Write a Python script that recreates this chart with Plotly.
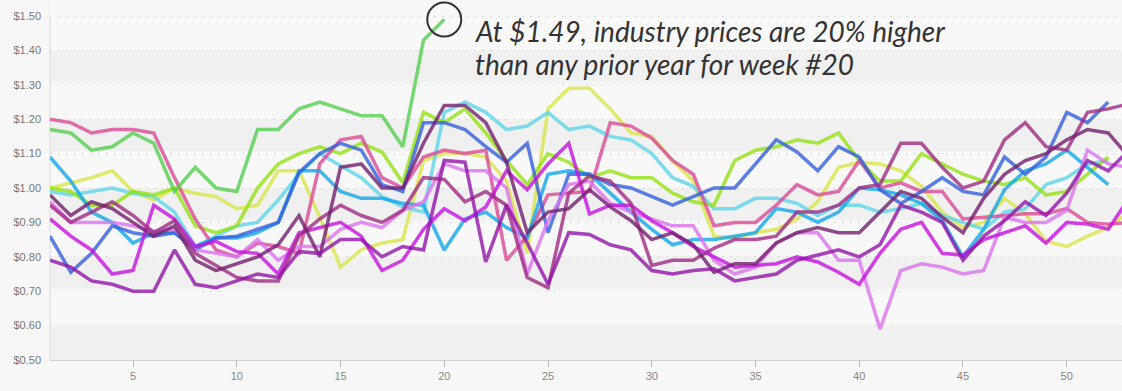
import plotly.graph_objects as go

weeks = list(range(1, 54))

green_2024 = [1.17,1.16,1.11,1.12,1.16,1.13,0.99,1.06,1.00,0.99,1.17,1.17,1.23,1.25,1.23,1.21,1.21,1.12,1.43,1.49]

rose = [1.20,1.19,1.16,1.17,1.17,1.16,1.03,0.91,0.82,0.80,0.84,0.83,0.81,1.07,1.14,1.15,1.03,1.00,1.09,1.11,
        1.10,1.11,0.79,0.86,0.98,0.985,0.99,1.19,1.18,1.145,1.08,1.04,0.89,0.90,0.90,0.95,1.01,0.98,0.99,1.08,
        1.00,1.015,0.99,0.99,0.91,0.915,0.92,0.925,0.925,0.94,0.90,0.895,0.90]

cyan = [1.09,1.02,0.93,0.90,0.84,0.87,0.87,0.83,0.855,0.855,0.87,0.90,1.05,1.05,0.99,0.97,0.97,0.955,0.95,0.82,
        0.91,0.93,0.885,0.855,1.04,1.05,1.04,0.985,0.93,0.88,0.835,0.85,0.85,0.86,0.87,0.94,0.93,0.90,0.93,1.00,
        0.995,0.98,0.955,0.905,0.80,0.88,0.995,1.05,1.07,1.11,1.06,1.01]

light_cyan = [0.99,0.98,0.99,1.00,0.985,0.975,0.93,0.83,0.86,0.89,0.90,0.965,1.04,1.10,1.065,1.03,0.975,0.945,0.93,1.22,
              1.25,1.22,1.17,1.18,1.22,1.17,1.18,1.15,1.14,1.10,1.03,1.005,0.94,0.94,0.97,0.97,0.955,0.92,0.95,0.95,
              0.93,0.94,0.955,0.92,0.90,0.88,0.93,0.94,1.01,1.03,1.07,1.08]

royal_blue = [0.86,0.755,0.81,0.89,0.87,0.86,0.87,0.82,0.855,0.86,0.88,0.90,1.045,1.10,1.13,1.11,1.01,0.99,1.19,1.19,
              1.17,1.12,1.075,1.13,0.87,1.04,1.04,1.01,1.00,0.975,0.95,0.975,1.00,1.00,1.07,1.14,1.105,1.05,1.12,1.09,
              0.995,0.955,0.99,1.03,0.99,0.98,1.09,1.04,1.09,1.22,1.19,1.25]

lime = [1.00,0.99,0.95,0.95,0.99,0.98,1.00,0.89,0.87,0.89,1.00,1.07,1.10,1.12,1.10,1.13,1.105,1.015,1.22,1.19,
        1.23,1.16,1.08,1.01,1.10,1.075,1.03,1.05,1.03,1.03,0.985,0.96,0.95,1.08,1.11,1.12,1.14,1.13,1.16,1.08,
        1.02,1.02,1.10,1.07,1.04,1.02,1.01,1.03,0.98,0.99,1.04,1.09]

yellow = [1.00,1.015,1.03,1.05,0.99,0.965,1.00,0.985,0.975,0.94,0.95,1.05,1.05,0.915,0.77,0.82,0.84,0.85,1.08,1.10,
          1.10,1.09,1.02,0.81,1.23,1.29,1.29,1.23,1.16,1.15,1.08,1.02,0.86,0.855,0.87,0.88,0.91,0.96,1.06,1.075,
          1.07,1.05,1.005,0.93,0.885,0.90,0.97,0.925,0.845,0.83,0.86,0.885,0.93]

dark_purple = [0.98,0.92,0.96,0.94,0.90,0.86,0.89,0.79,0.76,0.78,0.80,0.835,0.92,0.80,1.06,1.07,1.00,1.00,1.13,1.24,
               1.24,1.19,1.075,0.87,0.93,0.94,0.995,0.945,0.905,0.85,0.87,0.835,0.755,0.78,0.78,0.84,0.87,0.885,0.87,0.87,
               0.93,0.99,0.97,0.915,0.87,0.97,1.04,1.08,1.10,1.14,1.17,1.16,1.09]

mulberry = [0.95,0.90,0.93,0.96,0.92,0.87,0.905,0.81,0.775,0.74,0.73,0.73,0.86,0.91,0.95,0.92,0.90,0.935,1.03,1.025,
            0.96,0.99,0.95,0.74,0.71,0.985,1.035,1.02,0.955,0.775,0.79,0.79,0.825,0.85,0.85,0.86,0.93,0.93,0.95,1.00,
            1.01,1.13,1.13,1.06,1.00,1.02,1.14,1.19,1.12,1.11,1.22,1.23,1.245]

magenta = [0.91,0.86,0.82,0.75,0.76,0.95,0.91,0.83,0.845,0.815,0.81,0.75,0.87,0.885,0.90,0.86,0.76,0.79,0.88,0.94,
           0.905,0.945,1.05,0.995,1.07,1.13,0.925,0.95,0.95,0.905,0.87,0.83,0.80,0.77,0.775,0.78,0.80,0.785,0.755,0.72,
           0.81,0.88,0.90,0.81,0.805,0.85,0.87,0.89,0.84,0.90,0.895,0.88,0.97]

light_violet = [0.96,0.90,0.90,0.90,0.89,0.875,0.88,0.82,0.81,0.80,0.85,0.79,0.83,0.83,0.88,0.90,0.885,0.935,0.96,1.07,
                1.05,1.05,1.00,0.75,0.905,1.01,1.02,0.955,0.93,0.91,0.89,0.89,0.79,0.75,0.77,0.84,0.87,0.87,0.79,0.79,
                0.59,0.76,0.78,0.77,0.75,0.76,0.915,0.90,0.90,0.935,1.11,1.07,1.06]

purple = [0.79,0.77,0.73,0.72,0.70,0.70,0.82,0.72,0.71,0.73,0.75,0.74,0.815,0.81,0.85,0.85,0.80,0.83,0.82,1.08,
          1.075,0.785,0.95,0.84,0.72,0.87,0.865,0.835,0.82,0.76,0.75,0.76,0.765,0.73,0.74,0.75,0.79,0.805,0.82,0.80,
          0.835,0.95,0.93,0.90,0.79,0.86,0.905,0.96,0.92,0.985,1.08,1.05,1.11]

y_ticks = [round(0.5 + 0.1 * i, 2) for i in range(11)]
y_tick_text = ["$%.2f" % v for v in y_ticks]
x_ticks = list(range(5, 51, 5))

note_lines = ["At $1.49, industry prices are 20% higher", "than any prior year for week #20"]

series = [
    ("Yellow", yellow, "#dbe64a"),
    ("Light cyan", light_cyan, "#5fd6ea"),
    ("Lime", lime, "#94e312"),
    ("Rose", rose, "#dc4a98"),
    ("Cyan", cyan, "#12a8ea"),
    ("Royal blue", royal_blue, "#3560dd"),
    ("Light violet", light_violet, "#dd74ef"),
    ("Magenta", magenta, "#c812e0"),
    ("Mulberry", mulberry, "#a02c84"),
    ("Dark purple", dark_purple, "#74206f"),
    ("Purple", purple, "#9315aa"),
    ("2024", green_2024, "#55cf4f"),
]

fig = go.Figure()
for name, vals, color in series:
    fig.add_trace(go.Scatter(
        x=weeks[:len(vals)], y=vals, mode="lines", name=name,
        line=dict(color=color, width=3.5), opacity=0.8, hoverinfo="skip"))

# alternating bands
band_tops = [1.40, 1.20, 1.00, 0.80, 0.60]
shapes = []
for top in band_tops:
    shapes.append(dict(type="rect", xref="paper", yref="y", x0=0, x1=1,
                       y0=top - 0.093 if top > 0.6 else 0.5, y1=top,
                       fillcolor="#f0f0f0", line=dict(width=0), layer="below"))
# y axis line
shapes.append(dict(type="line", xref="paper", yref="y", x0=0, x1=0, y0=0.5, y1=1.5,
                   line=dict(color="#dcdcdc", width=1), layer="below"))
# circle around the peak point
shapes.append(dict(type="circle", xref="x", yref="y", xsizemode="pixel", ysizemode="pixel",
                   xanchor=20, yanchor=1.49, x0=-17, x1=17, y0=-17, y1=17,
                   line=dict(color="#333333", width=2)))

note_font = dict(family="Lato", size=28, color="#333333", style="italic")
annotations = [
    dict(xref="x", yref="y", x=21.4, y=1.457, xanchor="left", yanchor="middle",
         text=note_lines[0], showarrow=False, font=note_font),
    dict(xref="x", yref="y", x=21.4, y=1.361, xanchor="left", yanchor="middle",
         text=note_lines[1], showarrow=False, font=note_font),
]

fig.update_layout(
    width=1122, height=391,
    margin=dict(l=50, r=0, t=0, b=31),
    paper_bgcolor="#f7f7f7", plot_bgcolor="#f8f8f8",
    showlegend=False,
    shapes=shapes,
    annotations=annotations,
    font=dict(family="Liberation Sans, Arial, sans-serif"),
)
fig.update_xaxes(range=[1, 52.663], tickvals=x_ticks, ticks="outside",
                 ticklen=6, tickcolor="#bbbbbb", showgrid=False, zeroline=False,
                 showline=True, linecolor="#d0d0d0", linewidth=1,
                 tickfont=dict(size=11, color="#888888"))
fig.update_yaxes(range=[0.5, 1.5465], tickmode="array", tickvals=y_ticks, ticktext=y_tick_text,
                 showgrid=True, gridcolor="#d8d8d8",
                 griddash="2px,6px", gridwidth=1, zeroline=False, showline=False,
                 ticklabelstandoff=8, tickfont=dict(size=11, color="#777777"))

fig.write_html("out.html", config={"displayModeBar": False},
               post_script="document.body.style.margin='0';")
